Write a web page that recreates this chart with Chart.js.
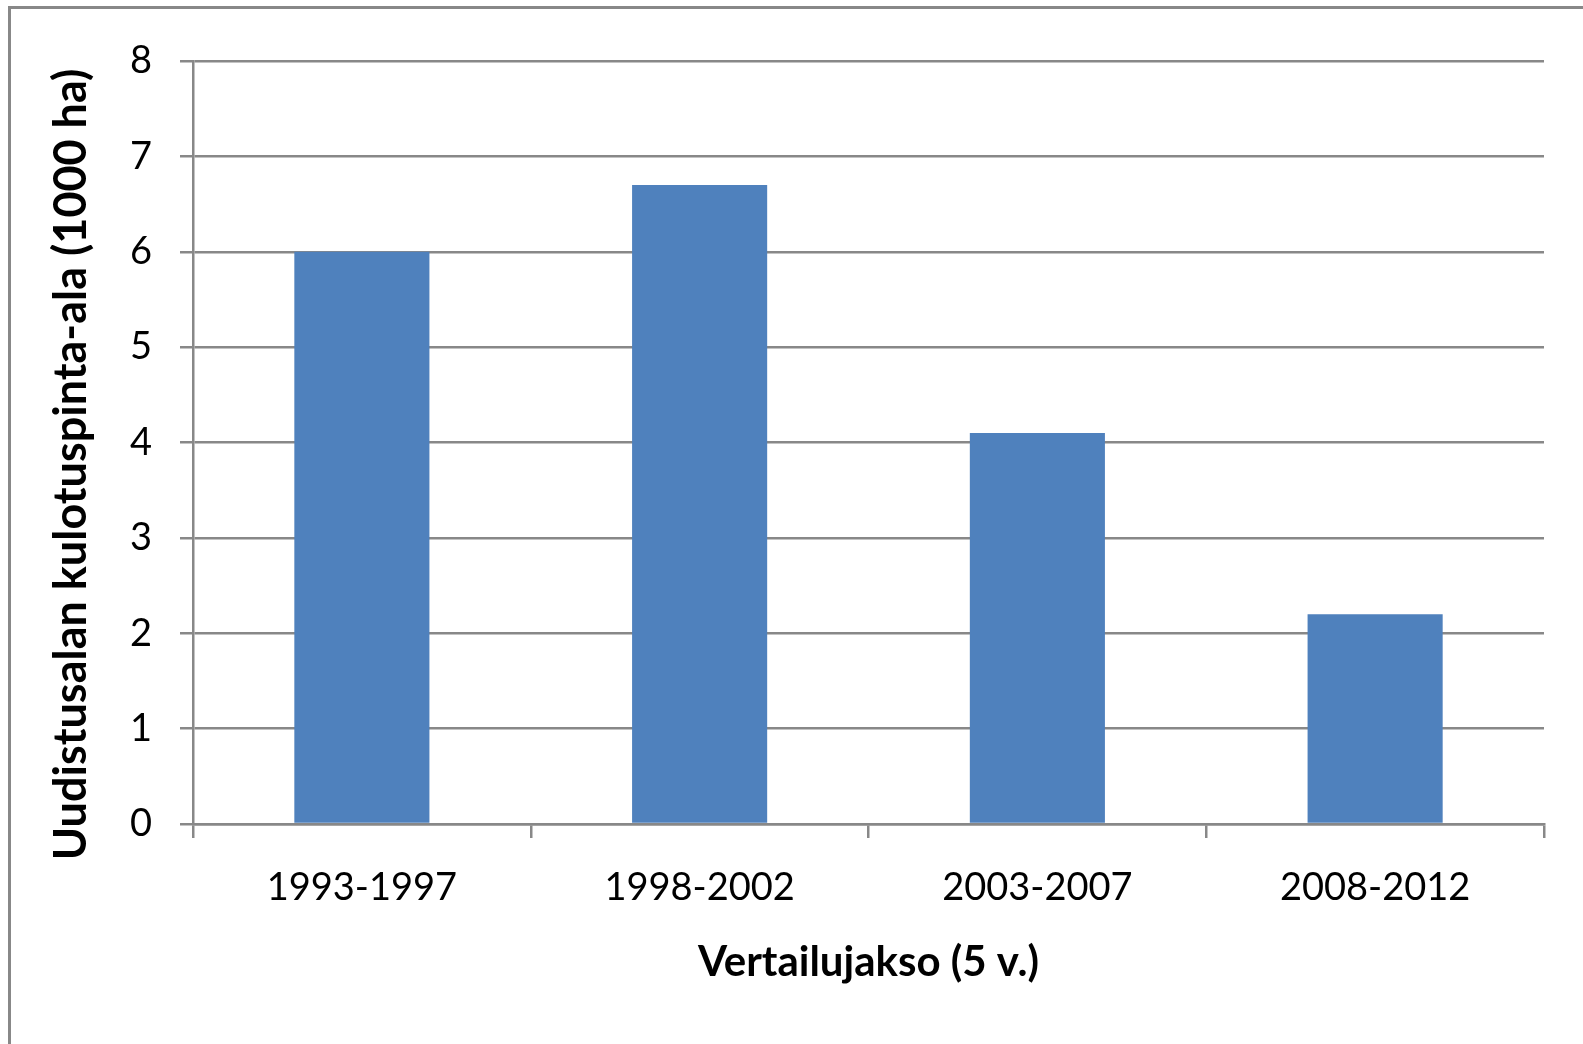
<!DOCTYPE html>
<html lang="fi">
<head>
    <meta charset="UTF-8">
    <title>Uudistusalan kulotuspinta-ala</title>
    <script src="https://cdn.jsdelivr.net/npm/chart.js@4.4.1/dist/chart.umd.min.js"></script>
    <style>
        html, body {
            margin: 0;
            padding: 0;
            background: #ffffff;
            overflow: hidden;
        }
        #frame {
            position: absolute;
            left: 8px;
            top: 6px;
            width: 1700px;
            height: 1200px;
            border-left: 3px solid #888888;
            border-top: 3px solid #888888;
        }
        #chart {
            position: absolute;
            left: 0;
            top: 0;
        }
    </style>
</head>
<body>
<div id="frame"></div>
<canvas id="chart" width="1583" height="1044"></canvas>
<script>
    // Data
    var periods = ['1993-1997', '1998-2002', '2003-2007', '2008-2012'];
    var burnedArea = [6.0, 6.7, 4.1, 2.2];
    var yTicks = [0, 1, 2, 3, 4, 5, 6, 7, 8];

    var gridColor = '#888888';

    var ctx = document.getElementById('chart').getContext('2d');
    var chart = new Chart(ctx, {
        type: 'bar',
        data: {
            labels: periods,
            datasets: [{
                data: burnedArea,
                backgroundColor: '#4F81BD',
                borderWidth: 0,
                barPercentage: 0.4,
                categoryPercentage: 1.0
            }]
        },
        options: {
            responsive: false,
            animation: false,
            devicePixelRatio: 1,
            layout: {
                padding: {top: 61, right: 39, bottom: 0, left: 0}
            },
            plugins: {
                legend: {display: false},
                tooltip: {enabled: false}
            },
            scales: {
                x: {
                    grid: {
                        offset: true,
                        drawOnChartArea: false,
                        drawTicks: true,
                        tickLength: 14,
                        color: gridColor,
                        lineWidth: 2.5
                    },
                    border: {color: gridColor, width: 2.5},
                    ticks: {
                        color: '#000000',
                        font: {family: 'Lato', size: 38},
                        padding: 27,
                        maxRotation: 0
                    },
                    title: {
                        display: true,
                        text: 'Vertailujakso (5 v.)',
                        color: '#000000',
                        font: {family: 'Lato', size: 42, weight: 'bold'},
                        padding: {top: 0, bottom: 56}
                    },
                    afterFit: function (scale) {
                        scale.height = 220;
                    }
                },
                y: {
                    min: 0,
                    max: 8,
                    afterBuildTicks: function (scale) {
                        scale.ticks = yTicks.map(function (v) { return {value: v}; });
                    },
                    grid: {
                        color: gridColor,
                        lineWidth: 2.5,
                        drawTicks: true,
                        tickLength: 13
                    },
                    border: {color: gridColor, width: 2.5},
                    ticks: {
                        color: '#000000',
                        font: {family: 'Lato', size: 38},
                        padding: 28
                    },
                    title: {
                        display: true,
                        // trailing spaces nudge the title a bit lower, like the original
                        text: 'Uudistusalan kulotuspinta-ala (1000 ha)\u00A0\u00A0\u00A0\u00A0',
                        color: '#000000',
                        font: {family: 'Lato', size: 45, weight: 'bold'},
                        padding: {top: 44, bottom: 0}
                    },
                    afterFit: function (scale) {
                        scale.width = 193;
                    }
                }
            }
        }
    });
</script>
</body>
</html>
